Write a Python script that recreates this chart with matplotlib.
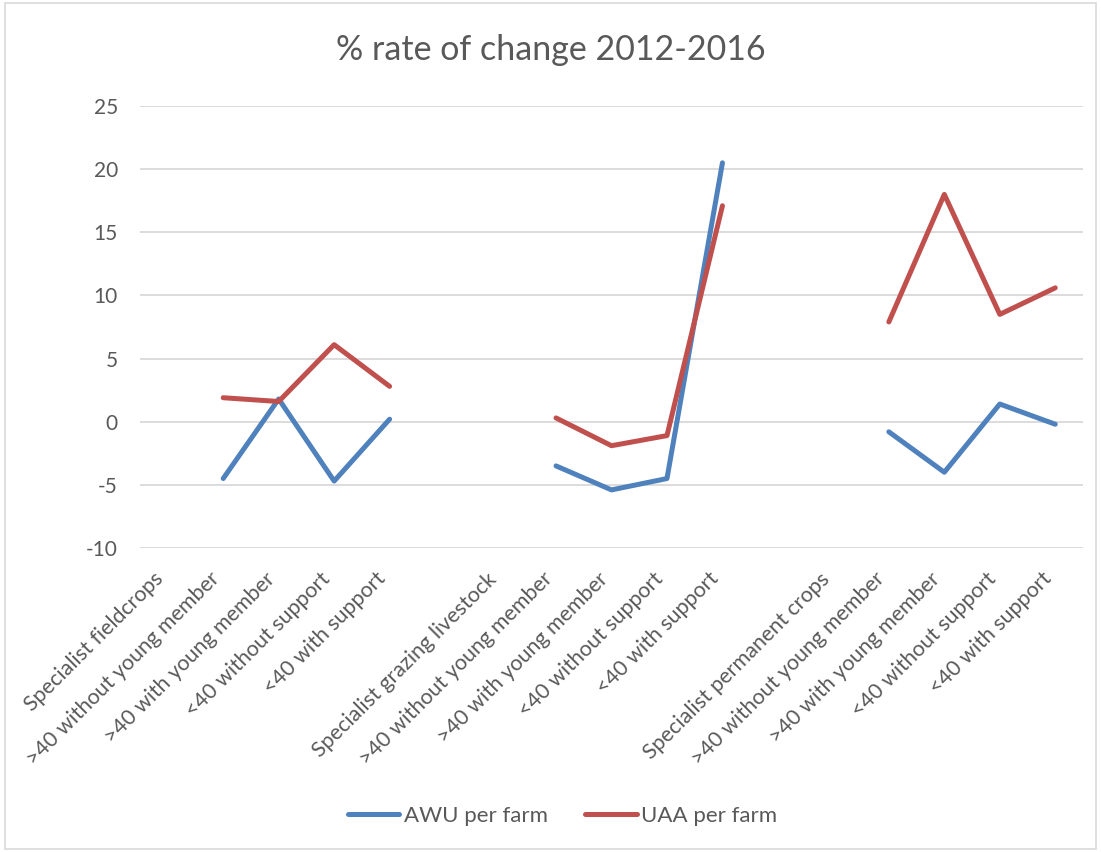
import numpy as np
import matplotlib
matplotlib.use("Agg")
import matplotlib.pyplot as plt
from matplotlib.patches import Rectangle

plt.rcParams['font.family'] = ['Lato', 'DejaVu Sans']
plt.rcParams['axes.unicode_minus'] = False

categories = [
    "Specialist fieldcrops", ">40 without young member", ">40 with young member",
    "<40 without support", "<40 with support", "",
    "Specialist grazing livestock", ">40 without young member", ">40 with young member",
    "<40 without support", "<40 with support", "",
    "Specialist permanent crops", ">40 without young member", ">40 with young member",
    "<40 without support", "<40 with support",
]

nan = np.nan
awu_per_farm = [nan, -4.5, 1.8, -4.7, 0.2, nan,
                nan, -3.5, -5.4, -4.5, 20.5, nan,
                nan, -0.8, -4.0, 1.4, -0.2]
uaa_per_farm = [nan, 1.9, 1.6, 6.1, 2.8, nan,
                nan, 0.3, -1.9, -1.1, 17.1, nan,
                nan, 7.9, 18.0, 8.5, 10.6]

title = "% rate of change 2012-2016"
text_color = "#595959"
grid_color = "#d9d9d9"

fig = plt.figure(figsize=(11.01, 8.52), dpi=100)
ax = fig.add_axes([140 / 1101, 1 - 548 / 852, (1083 - 140) / 1101, (548 - 106) / 852])

x = np.arange(len(categories))
ax.plot(x, awu_per_farm, color="#4F81BD", lw=3.6, solid_capstyle="round",
        solid_joinstyle="round", label="AWU per farm", zorder=3)
ax.plot(x, uaa_per_farm, color="#C0504D", lw=3.6, solid_capstyle="round",
        solid_joinstyle="round", label="UAA per farm", zorder=3)

ax.set_xlim(-0.5, len(categories) - 0.5)
ax.set_ylim(-10, 25)
ax.set_yticks(np.arange(-10, 26, 5))
ax.yaxis.grid(True, color=grid_color, lw=1.3)
ax.set_axisbelow(True)
for s in ax.spines.values():
    s.set_visible(False)
ax.tick_params(axis="y", length=0, pad=16, labelsize=15, labelcolor=text_color)
ax.tick_params(axis="x", length=0, pad=15, labelsize=15.5, labelcolor=text_color)
ax.set_xticks(x)
ax.set_xticklabels(categories, rotation=45, ha="right", va="top")

fig.text(0.5, 1 - 50 / 852, title, ha="center", va="center", fontsize=24.5, color=text_color)

leg = fig.legend(loc="center", bbox_to_anchor=(0.511, 1 - 816 / 852), ncol=2,
                 frameon=False, fontsize=16, handlelength=2.3, columnspacing=1.7,
                 handletextpad=0.2, labelcolor=text_color)

fig.patches.append(Rectangle((5 / 1101, 3 / 852), 1091 / 1101, 846 / 852,
                             transform=fig.transFigure, fill=False,
                             edgecolor="#d9d9d9", lw=1.2))

fig.savefig("out.png", dpi=100)
